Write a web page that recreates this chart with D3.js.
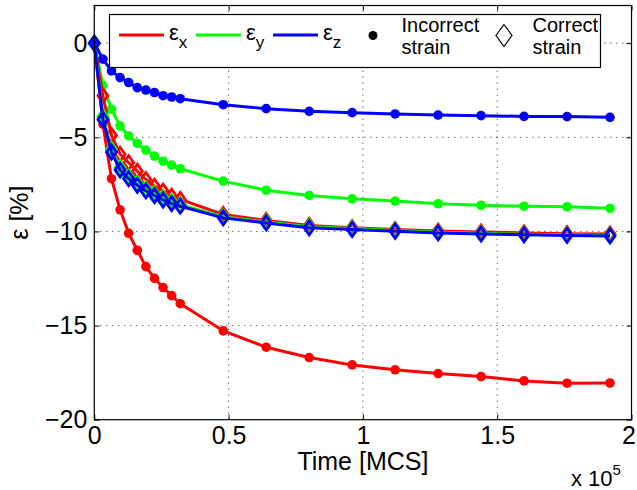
<!DOCTYPE html>
<html>
<head>
<meta charset="utf-8">
<script src="https://cdn.jsdelivr.net/npm/d3@7"></script>
<style>
  body { margin: 0; background: #fff; }
  svg text { font-family: "Liberation Sans", Arial, sans-serif; }
</style>
</head>
<body>
<div id="canvas"></div>
<script>
// plot size and the axes box (matlab style figure)
const width = 637, height = 490;
const margin = { left: 94.3, right: 5.5, top: 5.5, bottom: 70.3 };

// time steps in MCS
const times = [0, 3200, 6400, 9600, 12800, 16000, 19200, 22400, 25600, 28800, 32000,
               48000, 64000, 80000, 96000, 112000, 128000, 144000, 160000, 176000, 192000];

// incorrect strain (dots), in %
const incorrectX = [0, -4.3, -7.2, -8.85, -10.1, -11.0, -11.87, -12.49, -12.98, -13.41, -13.84,
                    -15.28, -16.15, -16.7, -17.09, -17.35, -17.55, -17.71, -17.94, -18.06, -18.05];
const incorrectY = [0, -2.24, -3.51, -4.4, -4.93, -5.32, -5.68, -6.0, -6.27, -6.48, -6.67,
                    -7.33, -7.81, -8.09, -8.27, -8.39, -8.53, -8.61, -8.66, -8.69, -8.77];
const incorrectZ = [0, -0.85, -1.47, -1.83, -2.09, -2.36, -2.49, -2.62, -2.79, -2.86, -2.95,
                    -3.27, -3.48, -3.62, -3.69, -3.76, -3.82, -3.85, -3.89, -3.9, -3.94];

// correct strain (diamonds), in %
const correctX = [0, -2.8, -4.9, -5.9, -6.35, -6.8, -7.24, -7.6, -7.86, -8.13, -8.3,
                  -9.1, -9.42, -9.68, -9.8, -9.9, -9.98, -10.03, -10.08, -10.12, -10.14];
const correctY = [0, -3.9, -5.65, -6.6, -7.1, -7.45, -7.75, -8.0, -8.22, -8.42, -8.58,
                  -9.22, -9.5, -9.75, -9.85, -9.95, -10.04, -10.1, -10.15, -10.18, -10.22];
const correctZ = [0, -4.05, -5.79, -6.74, -7.2, -7.55, -7.85, -8.1, -8.33, -8.52, -8.66,
                  -9.28, -9.55, -9.81, -9.9, -9.99, -10.08, -10.14, -10.18, -10.21, -10.24];

// ticks
const xTicks = [0, 50000, 100000, 150000, 200000];
const xTickLabels = ["0", "0.5", "1", "1.5", "2"];
const yTicks = [-20, -15, -10, -5, 0];
const yTickLabels = ["\u221220", "\u221215", "\u221210", "\u22125", "0"];

const colors = { x: "#ff0000", y: "#00ff00", z: "#0000ff" };
const fontSize = 25;

const xScale = d3.scaleLinear()
    .domain([0, 200000])
    .range([margin.left, width - margin.right]);
const yScale = d3.scaleLinear()
    .domain([-20, 2])
    .range([height - margin.bottom, margin.top]);

const svg = d3.select("#canvas")
    .append("svg")
    .attr("width", width)
    .attr("height", height);

const x0 = margin.left, x1 = width - margin.right;
const y0 = height - margin.bottom, y1 = margin.top;

// dotted grid
const grid = svg.append("g").attr("stroke", "#222").attr("stroke-width", 1)
    .attr("stroke-dasharray", "1,5");
grid.selectAll("line.gx")
    .data(xTicks.slice(1, -1))
    .join("line")
    .attr("class", "gx")
    .attr("x1", d => xScale(d)).attr("x2", d => xScale(d))
    .attr("y1", y0).attr("y2", y1);
grid.selectAll("line.gy")
    .data(yTicks.slice(1))
    .join("line")
    .attr("class", "gy")
    .attr("y1", d => yScale(d)).attr("y2", d => yScale(d))
    .attr("x1", x0).attr("x2", x1);

// axes: ticks point inward, labels outside
const bottomAxis = d3.axisBottom(xScale).tickValues(xTicks)
    .tickSizeInner(-5).tickSizeOuter(0).tickPadding(7)
    .tickFormat((d, i) => xTickLabels[i]);
const topAxis = d3.axisTop(xScale).tickValues(xTicks)
    .tickSizeInner(-5).tickSizeOuter(0).tickFormat("");
const leftAxis = d3.axisLeft(yScale).tickValues(yTicks)
    .tickSizeInner(-5).tickSizeOuter(0).tickPadding(7)
    .tickFormat((d, i) => yTickLabels[i]);
const rightAxis = d3.axisRight(yScale).tickValues(yTicks)
    .tickSizeInner(-5).tickSizeOuter(0).tickFormat("");

const styleAxis = g => {
    g.select(".domain").remove();
    g.selectAll("line").attr("stroke", "#000").attr("stroke-width", 1);
    g.selectAll("text").attr("font-size", fontSize).attr("fill", "#000")
        .attr("font-family", "Liberation Sans, Arial, sans-serif");
};

const xAxisG = svg.append("g").attr("transform", `translate(0,${y0})`).call(bottomAxis).call(styleAxis);
// the last label sits at the figure edge, nudge it in a bit
xAxisG.selectAll("text").filter((d, i) => i == xTicks.length - 1).attr("dx", -3);
svg.append("g").attr("transform", `translate(0,${y1})`).call(topAxis).call(styleAxis);
svg.append("g").attr("transform", `translate(${x0},0)`).call(leftAxis).call(styleAxis);
svg.append("g").attr("transform", `translate(${x1},0)`).call(rightAxis).call(styleAxis);

// series
const line = d3.line()
    .x(d => xScale(d[0]))
    .y(d => yScale(d[1]));

const series = [
    { vals: incorrectX, color: colors.x, marker: "dot" },
    { vals: incorrectY, color: colors.y, marker: "dot" },
    { vals: incorrectZ, color: colors.z, marker: "dot" },
    { vals: correctX, color: colors.x, marker: "diamond" },
    { vals: correctY, color: colors.y, marker: "diamond" },
    { vals: correctZ, color: colors.z, marker: "diamond" }
];

const plot = svg.append("g");
series.forEach(s => {
    const pts = times.map((t, i) => [t, s.vals[i]]);
    const g = plot.append("g");
    g.append("path")
        .attr("d", line(pts))
        .attr("fill", "none")
        .attr("stroke", s.color)
        .attr("stroke-width", 3)
        .attr("stroke-linejoin", "round");
    if (s.marker == "dot") {
        g.selectAll("circle")
            .data(pts)
            .join("circle")
            .attr("cx", d => xScale(d[0]))
            .attr("cy", d => yScale(d[1]))
            .attr("r", 4.8)
            .attr("fill", s.color);
    } else {
        g.selectAll("path.mk")
            .data(pts)
            .join("path")
            .attr("class", "mk")
            .attr("transform", d => `translate(${xScale(d[0])},${yScale(d[1])})`)
            .attr("d", "M0,-7L5,0L0,7L-5,0Z")
            .attr("fill", "none")
            .attr("stroke", s.color)
            .attr("stroke-width", 2.8);
    }
});

// box
svg.append("rect")
    .attr("x", x0).attr("y", y1)
    .attr("width", x1 - x0).attr("height", y0 - y1)
    .attr("fill", "none").attr("stroke", "#000").attr("stroke-width", 1.2);

// axis labels
svg.append("text")
    .attr("x", (x0 + x1) / 2).attr("y", 470)
    .attr("text-anchor", "middle").attr("font-size", fontSize)
    .text("Time [MCS]");

svg.append("text")
    .attr("transform", `translate(28,${(y0 + y1) / 2}) rotate(-90)`)
    .attr("text-anchor", "middle").attr("font-size", fontSize)
    .text("\u03b5 [%]");

const mult = svg.append("text")
    .attr("x", 571).attr("y", 486)
    .attr("font-size", 22);
mult.append("tspan").text("x 10");
mult.append("tspan").attr("dy", -11).attr("font-size", 15).text("5");

// legend
const legend = svg.append("g");
legend.append("rect")
    .attr("x", 109.5).attr("y", 14.5)
    .attr("width", 491).attr("height", 53)
    .attr("fill", "#fff").attr("stroke", "#000").attr("stroke-width", 1.2);

const legendLines = [
    { x: 119, color: colors.x, sub: "x" },
    { x: 196, color: colors.y, sub: "y" },
    { x: 273, color: colors.z, sub: "z" }
];
legendLines.forEach(l => {
    legend.append("line")
        .attr("x1", l.x).attr("x2", l.x + 45)
        .attr("y1", 35).attr("y2", 35)
        .attr("stroke", l.color).attr("stroke-width", 3);
    const t = legend.append("text")
        .attr("x", l.x + 50).attr("y", 40)
        .attr("font-size", 22);
    t.append("tspan").text("\u03b5");
    t.append("tspan").attr("dy", 8).attr("font-size", 17).text(l.sub);
});

legend.append("circle")
    .attr("cx", 373).attr("cy", 35.5).attr("r", 4.5).attr("fill", "#000");
legend.append("path")
    .attr("transform", "translate(504,35.5)")
    .attr("d", "M0,-11L8,0L0,11L-8,0Z")
    .attr("fill", "none").attr("stroke", "#000").attr("stroke-width", 1.2);

[["Incorrect", "strain", 401.5], ["Correct", "strain", 532.5]].forEach(([a, b, x]) => {
    legend.append("text").attr("x", x).attr("y", 32).attr("font-size", 20).text(a);
    legend.append("text").attr("x", x).attr("y", 54).attr("font-size", 20).text(b);
});
</script>
</body>
</html>
